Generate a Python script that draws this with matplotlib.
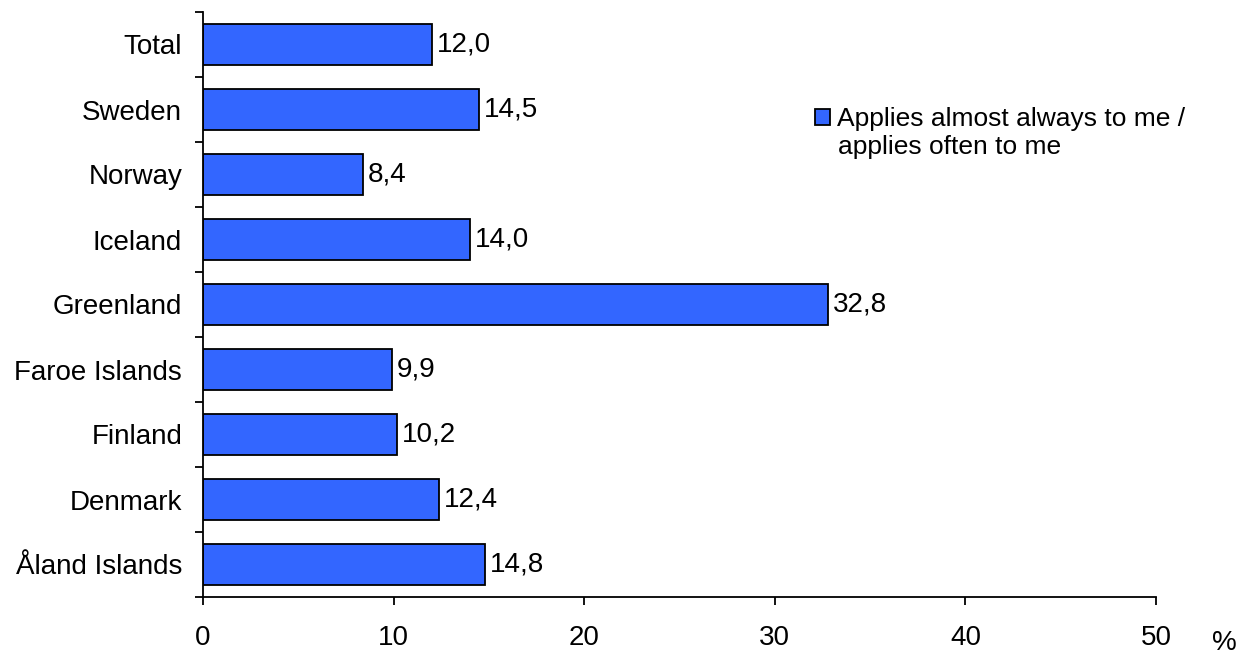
import matplotlib.pyplot as plt
import numpy as np

plt.rcParams['font.family'] = ['Liberation Sans', 'DejaVu Sans']

# data, top to bottom
paises = ['Total', 'Sweden', 'Norway', 'Iceland', 'Greenland', 'Faroe Islands',
          'Finland', 'Denmark', 'Åland Islands']
valores = [12.0, 14.5, 8.4, 14.0, 32.8, 9.9, 10.2, 12.4, 14.8]
rotulo = ['Applies almost always to me /', 'applies often to me']

fig = plt.figure(figsize=(12.58, 6.57), dpi=100)
ax = fig.add_axes([203/1258, 1 - 597/657, (1156 - 203)/1258, 585/657])

y = np.arange(len(paises))[::-1]
barras = ax.barh(y, valores, height=0.63, color='#3366FF', edgecolor='black',
                 linewidth=1.3, label=rotulo[0])

for yi, v in zip(y, valores):
    ax.text(v + 0.25, yi, f'{v:.1f}'.replace('.', ','), va='center', ha='left', fontsize=20)

ax.set_xlim(0, 50)
ax.set_ylim(-0.5, len(paises) - 0.5)
ax.set_xticks(range(0, 51, 10))
ax.set_yticks(y)
ax.set_yticklabels(paises)
ax.set_yticks(np.arange(-0.5, len(paises), 1), minor=True)

ax.tick_params(axis='y', which='major', length=0, pad=15, labelsize=20)
ax.tick_params(axis='y', which='minor', length=6, width=1.3, direction='out')
ax.tick_params(axis='x', length=6, width=1.3, pad=14, labelsize=20)

for lado in ['top', 'right']:
    ax.spines[lado].set_visible(False)
for lado in ['left', 'bottom']:
    ax.spines[lado].set_linewidth(1.3)

# legenda: primeira linha com o quadrado, segunda linha como texto solto
leg = ax.legend(loc='upper left', bbox_to_anchor=(815/1258, 1 - 107/657),
                bbox_transform=fig.transFigure, frameon=False, fontsize=19,
                handlelength=0.55, handleheight=0.55, handletextpad=0.3,
                borderpad=0, borderaxespad=0)
fig.text(838/1258, 1 - 147/657, rotulo[1], ha='left', va='center', fontsize=19)

fig.text(1224/1258, 1 - 643/657, '%', ha='center', va='center', fontsize=20)

fig.savefig('out.png', dpi=100)
